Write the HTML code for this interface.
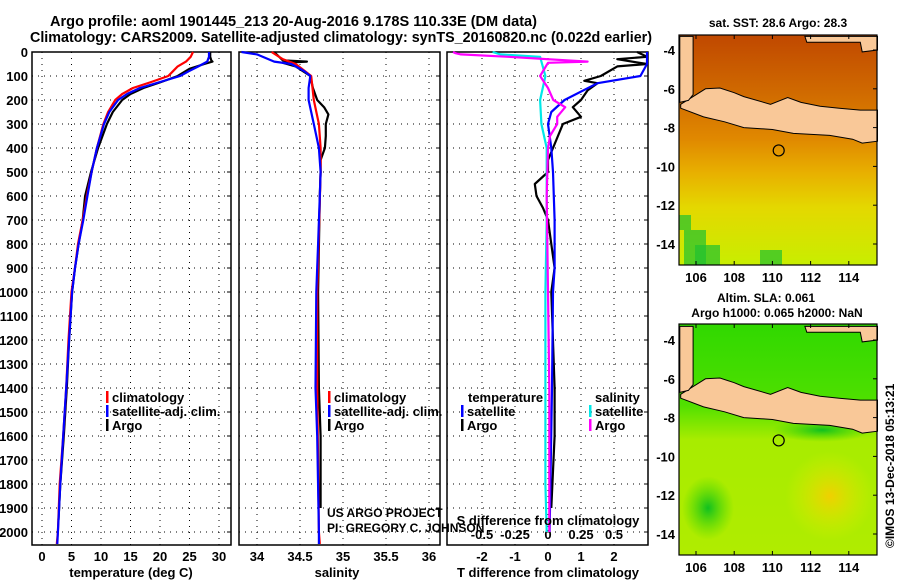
<!DOCTYPE html>
<html><head><meta charset="utf-8"><style>
body{margin:0;background:#fff;}
svg{display:block;font-family:"Liberation Sans",sans-serif;}
text{font-weight:bold;}
</style></head><body>
<svg id="c" width="900" height="580" viewBox="0 0 900 580">
<defs>
<linearGradient id="sstg" x1="0" y1="0" x2="0" y2="1">
<stop offset="0" stop-color="#c04800"/><stop offset="0.25" stop-color="#d06a00"/><stop offset="0.45" stop-color="#e08800"/><stop offset="0.6" stop-color="#e8b000"/><stop offset="0.75" stop-color="#e4d800"/><stop offset="1" stop-color="#c8ee00"/></linearGradient>
<linearGradient id="slag" x1="0" y1="0" x2="0" y2="1">
<stop offset="0" stop-color="#30d800"/><stop offset="0.35" stop-color="#50e000"/><stop offset="0.5" stop-color="#a8ec00"/><stop offset="1" stop-color="#b0ec00"/></linearGradient>
<radialGradient id="yel" cx="0.5" cy="0.5" r="0.5"><stop offset="0" stop-color="#f0d000"/><stop offset="1" stop-color="#d8f000" stop-opacity="0"/></radialGradient>
<radialGradient id="grn" cx="0.5" cy="0.5" r="0.5"><stop offset="0" stop-color="#10c020"/><stop offset="1" stop-color="#40d800" stop-opacity="0"/></radialGradient>
</defs>
<text x="50" y="26" font-size="14.5" textLength="487" lengthAdjust="spacingAndGlyphs">Argo profile: aoml 1901445_213 20-Aug-2016 9.178S 110.33E (DM data)</text>
<text x="30" y="42" font-size="14.5" textLength="622" lengthAdjust="spacingAndGlyphs">Climatology: CARS2009. Satellite-adjusted climatology: synTS_20160820.nc (0.022d earlier)</text>
<g id="plots"></g>
<g id="maps"></g>
</svg>
<script>
// depth axis
const depthTicks=[0,100,200,300,400,500,600,700,800,900,1000,1100,1200,1300,1400,1500,1600,1700,1800,1900,2000];
// temperature panel
const tDepthClim=[0,20,40,60,80,100,125,150,175,200,250,300,400,500,600,700,800,900,1000,1200,1400,1600,1800,2000,2050];
const tClim=[25.6,25.2,24.4,23.0,22.2,21.4,18.5,15.4,13.6,12.4,11.2,10.4,9.3,8.4,7.6,6.9,6.1,5.6,5.0,4.5,4.1,3.6,3.0,2.7,2.5];
const tSat=[28.3,28.3,28.0,26.5,24.9,23.4,20.0,16.6,14.4,12.9,11.4,10.5,9.3,8.4,7.7,7.0,6.2,5.6,5.1,4.6,4.1,3.6,3.1,2.7,2.6];
const tDepthArgo=[0,20,35,40,50,70,100,125,150,175,200,250,300,400,500,600,700,800,900,1000,1200,1400,1600,1800,1950];
const tArgo=[28.5,28.5,28.7,28.9,27.5,25.0,23.0,20.2,17.2,15.0,13.6,12.0,11.0,9.5,8.3,7.3,6.9,6.2,5.6,5.1,4.6,4.2,3.7,3.1,2.8];
const tTicks=[0,5,10,15,20,25,30];
// salinity panel
const sDepthClim=[0,30,50,100,200,300,400,500,1000,1400,2000,2050];
const sClim=[34.17,34.3,34.45,34.63,34.66,34.72,34.74,34.74,34.70,34.70,34.72,34.73];
const sDepthSat=[0,10,40,50,80,100,150,200,250,300,400,500,600,800,1000,1400,1600,2000,2050];
const sSat=[33.82,34.0,34.2,34.4,34.55,34.62,34.6,34.6,34.63,34.66,34.72,34.74,34.73,34.71,34.69,34.68,34.70,34.72,34.72];
const sDepthArgo=[0,35,40,45,60,100,150,200,230,260,300,350,400,450,500,600,1000,1400,1600,1900];
const sArgo=[34.2,34.3,34.58,34.3,34.45,34.62,34.65,34.70,34.78,34.83,34.80,34.80,34.79,34.74,34.74,34.73,34.71,34.72,34.74,34.74];
const sTicks=[34,34.5,35,35.5,36];
// difference panel
const dDepthT=[0,20,30,50,60,100,120,130,160,200,230,270,300,400,450,500,550,600,650,700,900,1000,1400,1600,1900];
const dTArgo=[2.7,3.0,2.1,3.0,2.1,1.6,1.1,1.5,1.2,1.0,0.75,1.0,0.45,0.15,0.0,0.0,-0.4,-0.35,-0.15,0.0,0.2,0.1,0.2,0.2,0.1];
const dDepthTSat=[0,50,100,130,200,250,300,400,500,700,900,1000,1400,2000];
const dTSat=[3.0,3.0,2.8,1.5,0.5,0.1,0.0,0.1,0.15,0.2,0.2,0.15,0.12,0.05];
const dDepthS=[0,5,10,20,40,45,100,150,200,230,270,300,350,400,600,1000,1400,2000];
const dSArgo=[-0.72,-0.70,-0.66,-0.3,0.3,0.0,-0.06,0.0,0.04,0.13,0.07,0.07,0.015,0.0,-0.01,0.0,0.01,0.01];
const dDepthSSat=[0,10,20,100,200,300,400,700,1000,1400,1800,2000];
const dSSat=[-0.42,-0.36,-0.06,-0.02,-0.06,-0.05,-0.01,-0.01,-0.02,-0.02,-0.02,-0.01];
const tdTicks=[-2,-1,0,1,2];
const sdTicks=[-0.5,-0.25,0,0.25,0.5];

const NS='http://www.w3.org/2000/svg';
const G=document.getElementById('plots');
function mk(tag,attrs,parent){const e=document.createElementNS(NS,tag);for(const k in attrs)e.setAttribute(k,attrs[k]);(parent||G).appendChild(e);return e;}
const top0=52,bot=545;
const yD=d=>top0+d*0.24;
const panels=[
 {x0:32,x1:231,xs:v=>42+v*5.9,name:'temperature'},
 {x0:239,x1:440,xs:v=>257+(v-34)*86,name:'salinity'},
 {x0:447,x1:648,xs:v=>548+v*33,name:'difference'}];
const sdx=v=>548+v*132;
panels.forEach((p,i)=>{
 const box=mk('rect',{x:p.x0,y:top0,width:p.x1-p.x0,height:bot-top0,fill:'none',stroke:'#000','stroke-width':1.5});
 
 
 depthTicks.forEach(d=>{
  const l=mk('line',{x1:p.x0,x2:p.x1,y1:yD(d),y2:yD(d),stroke:'#000','stroke-dasharray':'1,5'});
  
  
  mk('line',{x1:p.x1-4,x2:p.x1,y1:yD(d),y2:yD(d),stroke:'#000'});
  if(i===0){const t=mk('text',{x:28,y:yD(d)+5,'font-size':13,'text-anchor':'end'});t.textContent=d;
   
   }
 });
});
function vgrid(p,ticks,fx,labels,ly){
 ticks.forEach((v,k)=>{const x=fx(v);
  const l=mk('line',{x1:x,x2:x,y1:top0,y2:bot,stroke:'#000','stroke-dasharray':'1,5'});
  
  
  if(labels){const t=mk('text',{x:x,y:ly,'font-size':13,'text-anchor':'middle'});t.textContent=labels[k];
   
   }
 });
}
vgrid(panels[0],tTicks,panels[0].xs,tTicks,561);
vgrid(panels[1],sTicks,panels[1].xs,sTicks,561);
vgrid(panels[2],tdTicks,panels[2].xs,tdTicks,561);
sdTicks.forEach(v=>{const t=mk('text',{x:sdx(v),y:539,'font-size':13,'text-anchor':'middle'});t.textContent=String(v);
 
 });
function line(ds,vs,fx,col,name,w){
 const pts=ds.map((d,k)=>fx(vs[k]).toFixed(1)+','+yD(d).toFixed(1)).join(' ');
 const e=mk('polyline',{points:pts,fill:'none',stroke:col,'stroke-width':w||2.2,'stroke-linejoin':'round'});
 
 
}
line(tDepthArgo,tArgo,panels[0].xs,'#000','temperature-argo-line');
line(tDepthClim,tClim,panels[0].xs,'#f00','temperature-climatology-line');
line(tDepthClim,tSat,panels[0].xs,'#00f','temperature-satellite-line');
line(sDepthArgo,sArgo,panels[1].xs,'#000','salinity-argo-line');
line(sDepthClim,sClim,panels[1].xs,'#f00','salinity-climatology-line');
line(sDepthSat,sSat,panels[1].xs,'#00f','salinity-satellite-line');
line(dDepthT,dTArgo,panels[2].xs,'#000','t-diff-argo-line');
line(dDepthTSat,dTSat,panels[2].xs,'#00f','t-diff-satellite-line');
line(dDepthSSat,dSSat,sdx,'#00e8e8','s-diff-satellite-line');
line(dDepthS,dSArgo,sdx,'#f0f','s-diff-argo-line');
function txt(x,y,s,size,name,extra){const t=mk('text',Object.assign({x:x,y:y,'font-size':size},extra||{}));t.textContent=s;
 
 return t;}
txt(131,577,'temperature (deg C)',13,'temperature-axis-title',{'text-anchor':'middle'});
txt(337,577,'salinity',13,'salinity-axis-title',{'text-anchor':'middle'});
txt(548,577,'T difference from climatology',13,'t-diff-axis-title',{'text-anchor':'middle'});
txt(548,525,'S difference from climatology',13,'s-diff-axis-title',{'text-anchor':'middle'});
function leg(x,y,col,label,name){mk('rect',{x:x,y:y-11,width:2.5,height:12,fill:col});txt(x+6,y,label,13,name);}
leg(106,402,'#f00','climatology','legend-climatology');
leg(106,416,'#00f','satellite-adj. clim.','legend-satellite-adj');
leg(106,430,'#000','Argo','legend-argo');
leg(328,402,'#f00','climatology','legend-climatology-2');
leg(328,416,'#00f','satellite-adj. clim.','legend-satellite-adj-2');
leg(328,430,'#000','Argo','legend-argo-2');
txt(468,402,'temperature',13,'legend-temperature-heading');
leg(461,416,'#00f','satellite','legend-t-satellite');
leg(461,430,'#000','Argo','legend-t-argo');
txt(595,402,'salinity',13,'legend-salinity-heading');
leg(589,416,'#00e8e8','satellite','legend-s-satellite');
leg(589,430,'#f0f','Argo','legend-s-argo');
txt(327,517,'US ARGO PROJECT',12,'credit-project',{'font-weight':'normal'});
txt(327,532,'PI: GREGORY C. JOHNSON',12,'credit-pi',{'font-weight':'normal'});

// maps
const M=document.getElementById('maps');
const lx=l=>696+(l-106)*19.1;
function buildMap(y0,y1,ly0,fill,name){
 const ly=l=>ly0+(-4-l)*19.4;
 const g=mk('g',{},M);
 
 
 mk('rect',{x:679,y:y0,width:198,height:y1-y0,fill:fill},g);
 return {g,ly};
}
function landAndAxes(m,y0,y1){
 const {g,ly}=m;
 const P=a=>a.map(p=>lx(p[0]).toFixed(1)+','+ly(p[1]).toFixed(1)).join(' ');
 const java=[[105.2,-6.8],[105.85,-6.4],[106.5,-6.0],[107.25,-5.96],[108.0,-6.2],[108.5,-6.4],[109.9,-6.8],[110.8,-6.45],[111.5,-6.7],[112.5,-6.9],[113.5,-7.0],[114.6,-7.1],[115.5,-7.1],[115.5,-8.7],[114.7,-8.8],[114.2,-8.6],[113,-8.4],[111.1,-8.3],[110,-8.1],[108.5,-8.0],[107.5,-7.7],[106.4,-7.45],[105.2,-7.0]];
 const sum=[[105.15,-3.3],[105.85,-3.3],[105.85,-6.3],[105.6,-6.6],[105.15,-6.7]];
 const born=[[111.7,-3.3],[115.5,-3.3],[115.5,-4.0],[114.7,-4.1],[114.6,-3.6],[111.8,-3.6]];
 [java,sum,born].forEach((a,k)=>{const e=mk('polygon',{points:P(a),fill:'#f9c898',stroke:'#000','stroke-width':1},g);
  
  });
 const c=mk('circle',{cx:lx(110.33),cy:ly(-9.178),r:5.5,fill:'none',stroke:'#000','stroke-width':1.2},g);
 
 
 mk('rect',{x:679,y:y0,width:198,height:y1-y0,fill:'none',stroke:'#000','stroke-width':1.2},g);
 [106,108,110,112,114].forEach(l=>{mk('line',{x1:lx(l),x2:lx(l),y1:y1,y2:y1-4,stroke:'#000'},g);mk('line',{x1:lx(l),x2:lx(l),y1:y0,y2:y0+4,stroke:'#000'},g);
  txt(lx(l),y1+17,String(l),13,'lon-tick-label',{'text-anchor':'middle'});});
 [-4,-6,-8,-10,-12,-14].forEach(l=>{mk('line',{x1:873,x2:877,y1:ly(l),y2:ly(l),stroke:'#000'},g);
  txt(675,ly(l)+5,String(l),13,'lat-tick-label',{'text-anchor':'end'});});
}
const m1=buildMap(35,265,50,'url(#sstg)','sst-map');
[[684,230,22,35],[695,245,25,20],[760,250,22,15],[679,215,12,15]].forEach(r=>mk('rect',{x:r[0],y:r[1],width:r[2],height:r[3],fill:'#20c030',opacity:0.7},m1.g));
landAndAxes(m1,35,265);
txt(778,27,'sat. SST: 28.6 Argo: 28.3',12,'sst-map-title',{'text-anchor':'middle'});
const m2=buildMap(324,555,340,'url(#slag)','sla-map');
mk('ellipse',{cx:830,cy:496,rx:45,ry:45,fill:'url(#yel)'},m2.g);
mk('ellipse',{cx:708,cy:508,rx:26,ry:32,fill:'url(#grn)'},m2.g);
mk('ellipse',{cx:822,cy:430,rx:50,ry:12,fill:'url(#grn)'},m2.g);
landAndAxes(m2,324,555);
txt(766,302,'Altim. SLA: 0.061',12,'sla-map-title',{'text-anchor':'middle'});
txt(777,317,'Argo h1000: 0.065 h2000: NaN',12,'sla-map-subtitle',{'text-anchor':'middle'});
txt(0,0,'©IMOS 13-Dec-2018 05:13:21',12,'imos-timestamp',{'font-weight':'normal',transform:'translate(894,548) rotate(-90)'});
</script>
</body></html>
